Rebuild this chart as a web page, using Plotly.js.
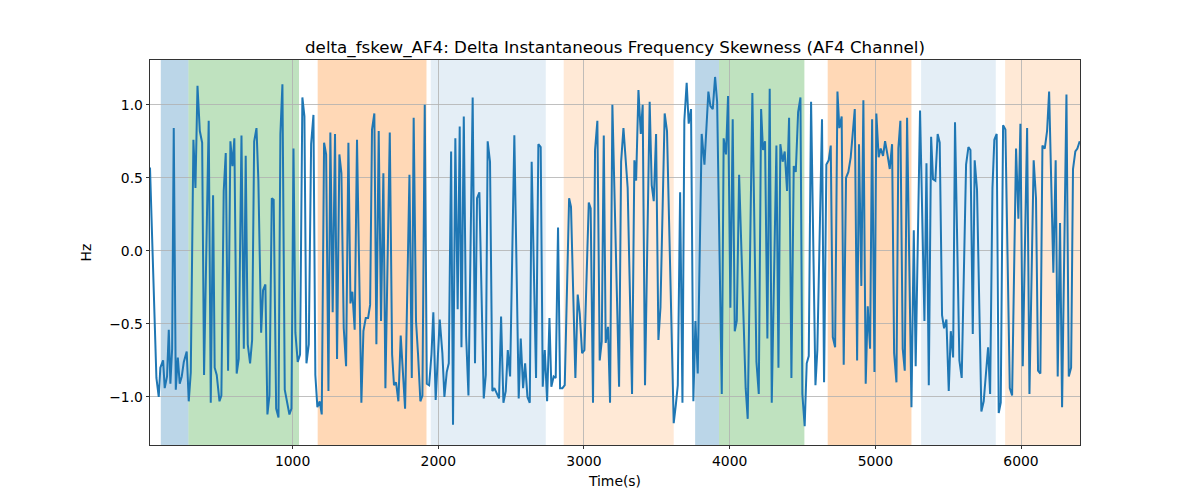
<!DOCTYPE html>
<html>
<head>
<meta charset="utf-8">
<script src="https://cdn.plot.ly/plotly-3.0.1.min.js"></script>
<style>
  html, body { margin: 0; padding: 0; background: #fff; }
  #chart { width: 1200px; height: 500px; }
</style>
</head>
<body>
<div id="chart"></div>
<script>
// ---- data ----
const timeS = [
  21,65,81,92,111,122,138,150,161,173,184,198,212,225,239,253,273,287,301,319,333,347,363,379,392,424,438,454,465,479,498,511,527,541,557,573,587,600,616,630,649,665,678,692,708,722,736,752,765,784,797,813,827,841,857,870,887,903,916,930,946,962,978,992,1006,1019,1035,1051,1067,
  1081,1095,1111,1127,1143,1156,1170,1186,1200,1216,1230,1246,1259,1275,1291,1305,1321,1335,1351,1367,1383,1397,1410,1426,1442,1472,1486,1502,1518,1532,1545,1561,1575,1591,1607,1623,1637,1667,1683,1696,1710,1726,1742,1772,1802,1818,1831,1847,1861,1877,1891,1907,1921,1937,1953,1966,1982,2010,2028,2042,2058,2072,2088,2101,2117,2133,2147,
  2159,2175,2191,2207,2236,2252,2266,2282,2312,2326,2339,2355,2371,2385,2401,2417,2431,2447,2463,2477,2493,2522,2552,2566,2582,2596,2612,2628,2641,2671,2687,2703,2717,2731,2747,2763,2776,2792,2806,2822,2836,2852,2868,2898,2911,2941,2957,2971,2987,3003,3033,3046,3062,3076,3092,3108,3122,3136,3149,3165,3179,3195,
  3241,3255,3271,3300,3330,3346,3358,3374,3390,3403,3419,3451,3465,3479,3495,3511,3525,3554,3570,3616,3630,3644,3660,3676,3689,3705,3719,3735,3751,3765,3781,3808,3827,3854,3868,3884,3900,3914,3946,3959,3975,3989,4005,4021,4035,4049,4065,4110,4124,4156,4184,4200,4216,4229,4243,4259,4275,
  4289,4321,4335,4348,4364,4378,4394,4408,4424,4440,4454,4470,4486,4499,4515,4529,4543,4559,4589,4602,4634,4648,4664,4680,4694,4708,4724,4740,4753,4769,4783,4799,4815,4831,4845,4859,4875,4888,4904,4918,4934,4948,4964,4978,4994,5007,5023,5037,5053,5067,5083,5099,5115,5129,5145,5158,5172,5188,5202,5218,5248,5264,5277,5307,5337,
  5351,5367,5383,5396,5412,5428,5442,5458,5472,5488,5504,5518,5534,5547,5577,5593,5623,5639,5653,5669,5682,5698,5728,5744,5758,5774,5788,5804,5817,5833,5847,5861,5877,5893,5923,5939,5966,5982,5996,6012,6042,6058,6087,6103,6117,6133,6147,6163,6179,6193,6222,6238,6252,6268,6282,6312,6328,6344,6357,6373,6387,6403
];
const deltaFskew = [
  0.57,-0.87,-1.00,-0.80,-0.75,-0.94,-0.86,-0.54,-0.91,-0.67,0.84,-0.95,-0.73,-0.91,-0.86,-0.76,-0.69,-1.03,-0.83,0.76,0.43,1.13,0.82,0.74,-0.85,0.89,-1.04,0.38,-0.80,-0.85,-1.03,-0.99,0.41,0.67,-0.82,0.75,0.58,0.77,-0.84,-0.74,0.79,-0.67,0.65,-0.64,-0.77,-0.61,0.75,0.84,0.48,-0.56,-0.27,-0.23,-1.12,-0.99,0.36,0.35,-1.08,-1.14,0.80,1.14,-0.95,-1.03,-1.12,-1.08,0.70,-0.56,-0.76,-0.71,1.05,
  0.92,-0.77,-0.64,0.73,0.93,-0.85,-1.07,-1.03,-1.12,0.74,0.66,-0.96,0.81,-0.42,0.80,-0.74,0.66,0.53,-0.53,-0.79,0.74,-0.36,-0.28,-0.54,0.76,-1.04,-0.55,-0.46,-0.46,-0.37,0.83,0.94,-0.64,0.82,-0.48,0.53,-0.94,0.81,-0.71,-0.92,-0.90,-1.03,-0.58,-1.08,0.52,-0.87,0.91,-0.48,-0.71,-1.03,-0.99,1.00,-0.91,-0.92,-0.71,-0.42,-1.02,-0.47,-0.70,-1.00,-0.83,-0.77,0.68,-1.19,0.77,-0.40,0.85,
  -0.66,0.92,-0.58,-0.99,1.05,-0.77,0.36,0.40,-1.01,-0.85,0.75,0.61,-0.96,-0.94,-0.98,-1.01,-0.45,-1.04,-0.96,-0.68,-0.86,0.79,-1.01,-0.60,-0.94,-0.77,-1.00,-1.04,0.61,-0.87,0.73,0.71,-0.93,-0.68,-1.03,-0.46,-0.93,-0.86,-0.87,0.16,-0.94,-0.94,-0.92,0.36,0.30,-0.87,-0.30,-0.43,-0.70,-0.68,0.33,0.29,-1.04,0.69,0.89,-0.75,-0.62,0.79,-0.63,-0.52,-1.04,1.00,
  -0.93,0.61,0.84,0.43,-0.98,0.62,0.48,1.10,0.80,1.00,-0.92,1.02,0.45,0.34,0.80,-0.61,-0.39,0.94,0.82,-1.18,-1.06,-0.92,0.40,-1.04,0.89,1.15,0.87,0.97,-1.03,-0.48,-0.84,0.80,0.59,1.09,0.99,0.97,1.19,1.02,-0.98,0.77,0.66,1.06,-0.39,0.90,-0.55,-0.48,0.52,-0.94,-1.15,1.08,-0.76,-0.98,0.97,0.69,0.75,-0.60,1.11,
  -1.04,0.72,-0.80,0.73,0.61,0.68,0.41,0.91,-0.87,0.58,0.54,0.95,1.05,-0.98,-1.20,-0.77,-0.72,1.02,-0.92,-0.68,0.90,-0.90,0.59,0.62,0.72,-0.59,-0.66,1.09,0.84,0.92,-0.78,0.50,0.54,0.64,0.82,0.97,-0.75,0.73,-0.24,1.03,-0.91,-0.38,-0.67,0.90,-0.83,0.94,0.64,0.70,0.65,0.75,0.66,0.56,0.73,-0.70,-0.90,0.70,0.89,-0.67,-0.82,0.91,-1.07,0.14,-0.79,0.96,-0.48,
  0.60,-0.92,0.78,0.49,0.48,0.80,0.74,-0.44,-0.53,-0.47,-0.96,-0.55,-0.73,0.88,-0.75,-0.87,0.59,0.71,0.69,-0.57,0.62,0.42,-1.10,-1.03,-0.83,-0.66,-0.98,0.43,0.76,0.80,-1.11,-1.04,0.86,0.83,-0.94,-0.99,0.70,0.22,0.87,-0.79,0.84,-0.98,0.62,0.36,-0.82,-0.84,0.72,0.70,0.82,1.09,-0.15,0.62,-0.86,0.19,-1.07,1.07,-0.86,-0.80,0.56,0.68,0.70,0.75
];

// shaded segments (start, end, kind)
const segStart = [95, 285, 1172, 1948, 2861, 3763, 3927, 4673, 5314, 5891];
const segEnd   = [285, 1044, 1919, 2738, 3616, 3927, 4513, 5248, 5827, 6405];
const segKind  = ["A", "B", "C", "D", "E", "A", "B", "C", "D", "E"];

const xTicks = [1000, 2000, 3000, 4000, 5000, 6000];
const yTicks = [-1.0, -0.5, 0.0, 0.5, 1.0];

// ---- styles ----
const kindColor = {
  A: "rgba(31,119,180,0.30)",
  B: "rgba(44,160,44,0.30)",
  C: "rgba(255,127,14,0.30)",
  D: "rgba(31,119,180,0.12)",
  E: "rgba(255,127,14,0.17)"
};

const shapes = segStart.map((s, i) => ({
  type: "rect", xref: "x", yref: "paper",
  x0: s, x1: segEnd[i], y0: 0, y1: 1,
  fillcolor: kindColor[segKind[i]], line: { width: 0 }, layer: "below"
}));

const font = { family: "DejaVu Sans, sans-serif", size: 13.9, color: "#000" };

const trace = {
  x: timeS, y: deltaFskew, type: "scatter", mode: "lines",
  line: { color: "#1f77b4", width: 2 }, hoverinfo: "skip"
};

const layout = {
  width: 1200, height: 500,
  margin: { l: 150, r: 120, t: 60, b: 55 },
  paper_bgcolor: "#fff", plot_bgcolor: "rgba(0,0,0,0)",
  font: font,
  showlegend: false,
  title: {
    text: "delta_fskew_AF4: Delta Instantaneous Frequency Skewness (AF4 Channel)",
    font: { family: "DejaVu Sans, sans-serif", size: 16.7, color: "#000" },
    x: 0.5, xref: "paper", xanchor: "center",
    y: 1, yref: "paper", yanchor: "bottom", pad: { b: 7 }
  },
  xaxis: {
    range: [21, 6405],
    tickvals: xTicks, ticktext: xTicks.map(String),
    ticks: "outside", ticklen: 3.5, tickwidth: 0.8, tickcolor: "#000",
    showline: true, linecolor: "#000", linewidth: 0.8, mirror: true,
    showgrid: true, gridcolor: "#b0b0b0", gridwidth: 0.8,
    zeroline: false, tickfont: font,
    title: { text: "Time(s)", font: font, standoff: 8 }
  },
  yaxis: {
    range: [-1.329, 1.306],
    tickvals: yTicks, ticktext: yTicks.map(v => (v < 0 ? "\u2212" : "") + Math.abs(v).toFixed(1)),
    ticks: "outside", ticklen: 3.5, tickwidth: 0.8, tickcolor: "#000",
    showline: true, linecolor: "#000", linewidth: 0.8, mirror: true,
    showgrid: true, gridcolor: "#b0b0b0", gridwidth: 0.8,
    zeroline: false, tickfont: font,
    title: { text: "Hz", font: font, standoff: 14 }
  },
  shapes: shapes
};

Plotly.newPlot("chart", [trace], layout, { staticPlot: true, displayModeBar: false });
</script>
</body>
</html>
